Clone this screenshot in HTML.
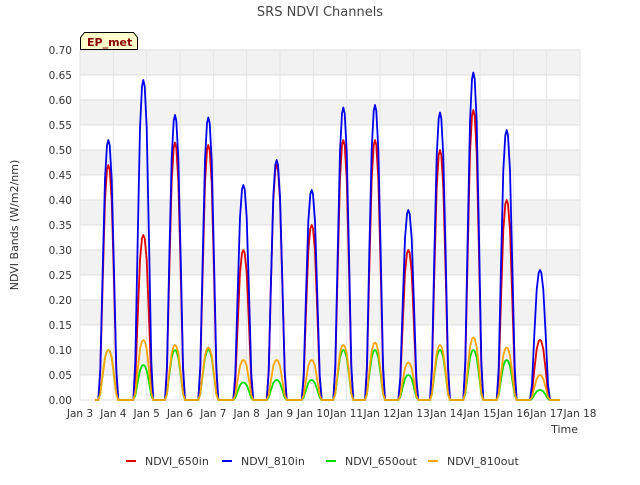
<!DOCTYPE html>
<html><head><meta charset="utf-8"><style>
body{margin:0;background:#fff;font-family:"Liberation Sans","DejaVu Sans",sans-serif;}
svg text{font-family:"DejaVu Sans","Liberation Sans",sans-serif;}
</style></head><body>
<svg id="chart" width="640" height="480">
<rect width="640" height="480" fill="#fff"/>
<text x="320" y="16" text-anchor="middle" font-size="13" fill="#444">SRS NDVI Channels</text>
<g id="bands"></g><g id="grid"></g><g id="axes"></g><g id="series"></g>
<text x="18" y="225" transform="rotate(-90 18 225)" text-anchor="middle" font-size="11" fill="#333">NDVI Bands (W/m2/nm)</text>
<text x="578" y="433" text-anchor="end" font-size="11" fill="#333">Time</text>
<g>
<path d="M80.5,49.5 V37.5 L84.5,32.5 H133.5 L137.5,37.5 V49.5 Z" fill="#ffffcc" stroke="#000"/>
<text x="87" y="46" font-size="11" font-weight="bold" fill="#8b0000">EP_met</text></g>
<g id="legend"></g>
</svg>
<script>
const dayCenters=[3.85,4.9,5.85,6.85,7.9,8.9,9.95,10.9,11.85,12.85,13.8,14.8,15.8,16.8];
const peak650in=[0.47,0.33,0.515,0.51,0.30,0.47,0.35,0.52,0.52,0.30,0.50,0.58,0.40,0.12];
const peak810in=[0.52,0.64,0.57,0.565,0.43,0.48,0.42,0.585,0.59,0.38,0.575,0.655,0.54,0.26];
const peak650out=[0.10,0.07,0.10,0.10,0.035,0.04,0.04,0.10,0.10,0.05,0.10,0.10,0.08,0.02];
const peak810out=[0.10,0.12,0.11,0.105,0.08,0.08,0.08,0.11,0.115,0.075,0.11,0.125,0.105,0.05];
const yTicks=[0,0.05,0.1,0.15,0.2,0.25,0.3,0.35,0.4,0.45,0.5,0.55,0.6,0.65,0.7];
const xTickDays=[3,4,5,6,7,8,9,10,11,12,13,14,15,16,17,18];
const shapeOff=[-0.3,-0.24,-0.17,-0.1,-0.04,0,0.04,0.1,0.17,0.24,0.3];
const shapeFac=[0,0.12,0.5,0.85,0.98,1,0.98,0.85,0.5,0.12,0];
const X0=80,X1=580,Y0=400,Y1=50;
const xs=d=>X0+(d-3)*(X1-X0)/15, ys=v=>Y0-v*(Y0-Y1)/0.7;
const NS="http://www.w3.org/2000/svg";
function mk(p,t,a){const e=document.createElementNS(NS,t);for(const k in a)e.setAttribute(k,a[k]);document.getElementById(p).appendChild(e);return e;}
for(let i=0;i<yTicks.length-1;i++){if(i%2===1){const r=mk('bands','rect',{x:X0,y:ys(yTicks[i+1]),width:X1-X0,height:ys(yTicks[i])-ys(yTicks[i+1]),fill:'#f2f2f2'});

}}
yTicks.forEach(v=>{const l=mk('grid','line',{x1:X0,x2:X1,y1:ys(v),y2:ys(v),stroke:'#ddd'});


const t=mk('axes','text',{x:X0-8,y:ys(v)+4,'text-anchor':'end','font-size':'10.5',fill:'#333'});t.textContent=v.toFixed(2);

});
xTickDays.forEach(d=>{const l=mk('grid','line',{x1:xs(d),x2:xs(d),y1:Y1,y2:Y0,stroke:'#e4e4e4'});


const t=mk('axes','text',{x:xs(d),y:Y0+17,'text-anchor':'middle','font-size':'10.5',fill:'#333'});t.textContent='Jan '+d;

});
const series=[['NDVI_650in','#e00000',peak650in],['NDVI_810in','#0000ee',peak810in],['NDVI_650out','#00dd00',peak650out],['NDVI_810out','#ffa500',peak810out]];
series.forEach(([name,col,pk])=>{let pts=[[xs(3.45),ys(0)]];
dayCenters.forEach((c,i)=>{shapeOff.forEach((o,j)=>pts.push([xs(c+o),ys(pk[i]*shapeFac[j])]));});
pts.push([xs(17.4),ys(0)]);
const p=mk('series','polyline',{points:pts.map(q=>q[0].toFixed(1)+','+q[1].toFixed(1)).join(' '),fill:'none',stroke:col,'stroke-width':1.8,'stroke-linejoin':'round'});

});
const lx=[126,222,326,428];
series.forEach(([name,col],i)=>{const g=mk('legend','g',{});


const l=document.createElementNS(NS,'line');l.setAttribute('x1',lx[i]);l.setAttribute('x2',lx[i]+10);l.setAttribute('y1',461);l.setAttribute('y2',461);l.setAttribute('stroke',col);l.setAttribute('stroke-width',2);g.appendChild(l);
const t=document.createElementNS(NS,'text');t.setAttribute('x',lx[i]+19);t.setAttribute('y',465);t.setAttribute('font-size','11');t.setAttribute('fill','#333');t.textContent=name;g.appendChild(t);});
</script>
</body></html>
